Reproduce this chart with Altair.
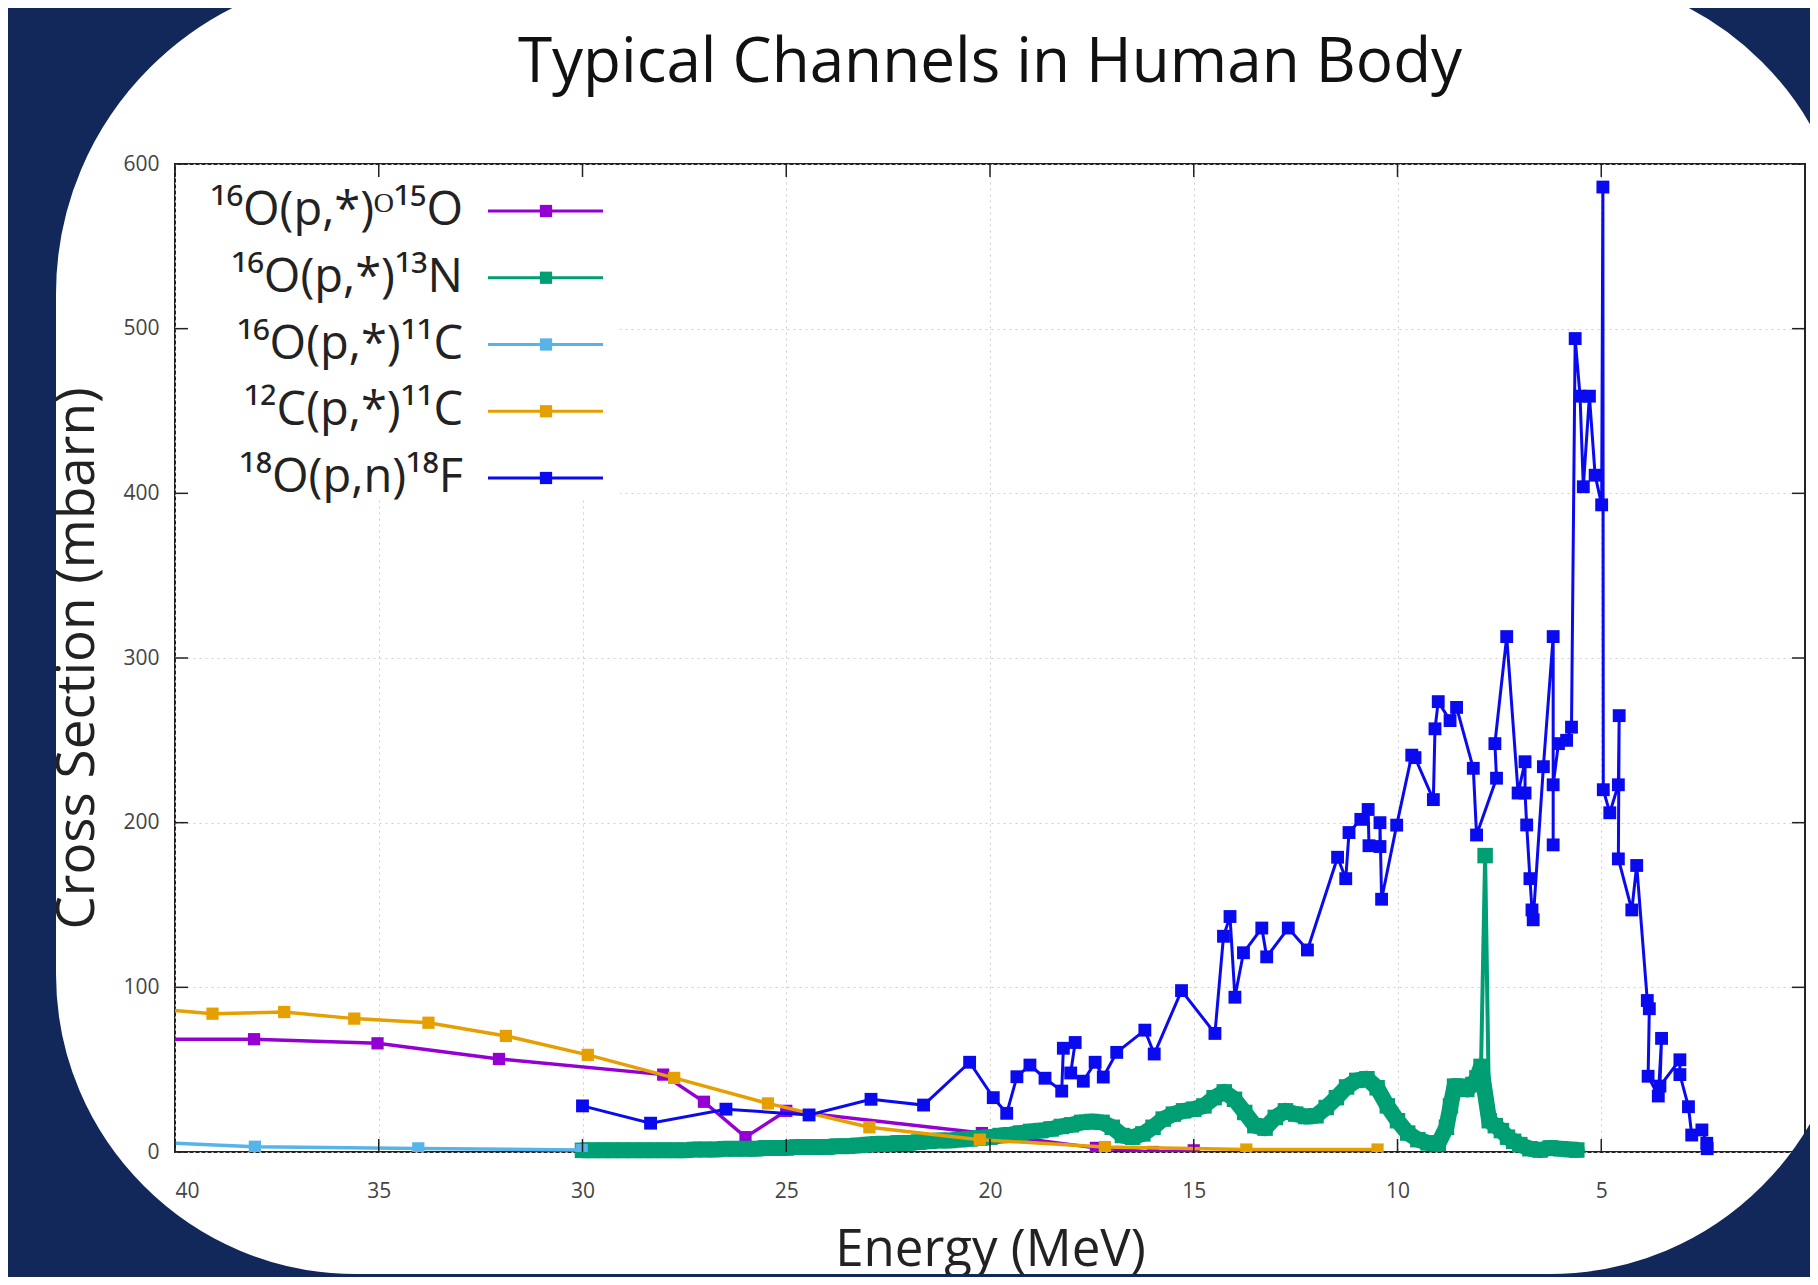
import altair as alt
import pandas as pd

# ---------------- data ----------------
SERIES = ["¹⁶O(p,*)ᴼ¹⁵O", "¹⁶O(p,*)¹³N", "¹⁶O(p,*)¹¹C", "¹²C(p,*)¹¹C", "¹⁸O(p,n)¹⁸F"]
COLORS = ["#9400d3", "#009e73", "#56b4e9", "#e69f00", "#0a0af0"]

PURPLE_E = [42.0, 38.06, 35.03, 32.05, 28.02, 27.02, 26.0, 25.0, 20.2, 17.4, 16.0, 15.0]
PURPLE_V = [68.5, 68.5, 66, 56.5, 47, 30.5, 9, 25, 11.5, 2.5, 0, 1]

GREEN_E = [30.0, 29.75, 29.5, 29.25, 29.0, 28.75, 28.5, 28.25, 28.0, 27.75,
           27.5, 27.25, 27.0, 26.75, 26.5, 26.25, 26.0, 25.75, 25.5, 25.25,
           25.0, 24.75, 24.5, 24.25, 24.0, 23.75, 23.5, 23.25, 23.0, 22.75,
           22.5, 22.25, 22.0, 21.75, 21.5, 21.25, 21.0, 20.75, 20.5, 20.25,
           20.0, 19.75, 19.5, 19.25, 19.0, 18.75, 18.5, 18.25, 18.0, 17.75,
           17.5, 17.25, 17.0, 16.75, 16.5, 16.25, 16.0, 15.75, 15.5, 15.25,
           15.0, 14.75, 14.5, 14.25, 14.0, 13.75, 13.5, 13.25, 13.0, 12.75,
           12.5, 12.25, 12.0, 11.75, 11.5, 11.25, 11.0, 10.75, 10.5, 10.25,
           10.0, 9.75, 9.5, 9.25, 9.0, 8.8, 8.7, 8.6, 8.5, 8.4,
           8.3, 8.15, 8.05, 7.95, 7.85, 7.75, 7.6, 7.45, 7.3, 7.15,
           7.0, 6.75, 6.5, 6.25, 6.0, 5.75, 5.6]
GREEN_V = [1, 1, 1, 1, 1, 1, 1, 1, 1, 1,
           1, 1.5, 1.5, 1.5, 2, 2, 2, 2, 2.5, 2.5,
           2.5, 3, 3, 3, 3, 3.5, 3.5, 4, 4.5, 5,
           5, 5.5, 5.5, 6, 6.5, 7, 7, 7.5, 8, 8.5,
           9, 10, 10.5, 11.5, 12.5, 13, 14, 15.5, 16.5, 18,
           18.5, 18, 15, 10, 9, 11, 15, 20, 23, 25,
           26, 28, 33, 36.5, 32, 24, 16, 14.5, 21, 25,
           23, 21.5, 22, 27, 33, 39.5, 43.5, 44.5, 39, 28,
           19, 11.5, 7.5, 5.5, 5, 15, 28, 40, 40, 39,
           38, 41, 45, 52, 180, 19, 16, 13, 9, 6.5,
           4.5, 2, 1.2, 2.5, 2, 1.5, 1.2]

CYAN_E = [42.0, 38.04, 34.03, 30.02]
CYAN_V = [7.5, 3.2, 2.2, 1.2]

ORANGE_E = [41.0, 39.08, 37.32, 35.6, 33.78, 31.88, 29.87, 27.75, 25.45, 22.96, 20.25, 17.18, 13.71, 10.49]
ORANGE_V = [88, 84, 85, 81, 78.5, 70.5, 59, 45, 29.5, 15, 7.5, 3, 1.5, 1.5]

BLUE_E = [30.0, 28.33, 26.48, 24.44, 22.92, 21.63, 20.5, 19.92, 19.59, 19.34,
          19.02, 18.65, 18.24, 18.2, 17.91, 18.02, 17.71, 17.42, 17.22, 16.89,
          16.2, 15.97, 15.3, 14.48, 14.27, 14.11, 13.99, 13.78, 13.33, 13.21,
          12.68, 12.21, 11.47, 11.27, 11.19, 10.9, 10.72, 10.7, 10.43, 10.43,
          10.39, 10.02, 9.65, 9.57, 9.12, 9.08, 9.0, 8.71, 8.55, 8.14,
          8.06, 7.57, 7.61, 7.32, 7.04, 6.87, 6.87, 6.83, 6.75, 6.7,
          6.67, 6.42, 6.18, 6.18, 6.18, 6.05, 5.85, 5.73, 5.64, 5.52,
          5.44, 5.29, 5.15, 4.99, 4.96, 4.95, 4.79, 4.58, 4.56, 4.58,
          4.25, 4.13, 3.87, 3.82, 3.85, 3.6, 3.52, 3.56, 3.07, 3.07,
          2.86, 2.78, 2.53, 2.41, 2.4]
BLUE_V = [28, 17.5, 26, 22.5, 32, 28.5, 54.5, 33, 23.5, 45.7,
          52.8, 44.8, 37, 63, 66.5, 48, 43, 54.5, 45.5, 60.5,
          74, 59.5, 98, 72, 131, 143, 94, 121, 136, 118.5,
          136, 122.7, 179, 166, 194, 202, 208, 186, 185.5, 200,
          153.5, 198.5, 241, 239.5, 214, 257, 273.5, 262, 270, 233,
          192.5, 227, 248, 313, 218, 237, 218, 198.6, 166, 147,
          141, 234, 313, 186.5, 223, 248, 250, 258, 494, 459,
          404, 459, 411, 393, 586, 220, 206, 223, 265, 178,
          147, 174, 92, 87, 46, 34, 69, 40, 56, 47,
          27.5, 10.3, 13.4, 5.3, 2]

X_TICKS = [40, 35, 30, 25, 20, 15, 10, 5]
Y_TICKS = [0, 100, 200, 300, 400, 500, 600]

TITLE = "Typical Channels in Human Body"
X_TITLE = "Energy (MeV)"
Y_TITLE = "Cross Section (mbarn)"

# ---------------- layout / style ----------------
PLOT_W, PLOT_H = 1630, 988
NAVY = "#12275a"
FONT = "Open Sans"
TICK_LEN = 13

X_SCALE = alt.Scale(domain=[40, 0], nice=False, zero=False)
Y_SCALE = alt.Scale(domain=[0, 600], nice=False, zero=False)

GRID = dict(grid=True, gridColor="#cfcfcf", gridDash=[2, 4], gridWidth=1)

x_axis = alt.Axis(values=X_TICKS, title=X_TITLE, domain=False, ticks=False,
                  labelFont=FONT, labelFontSize=21, labelColor="#444", labelPadding=28,
                  titleFont=FONT, titleFontSize=51, titleFontWeight="normal",
                  titleColor="#222", titlePadding=24, **GRID)
y_axis = alt.Axis(values=Y_TICKS, title=Y_TITLE, domain=False, ticks=False,
                  labelFont=FONT, labelFontSize=21, labelColor="#444", labelPadding=16,
                  titleFont=FONT, titleFontSize=53, titleFontWeight="normal",
                  titleColor="#222", titlePadding=18, **GRID)


def series_df(E, V):
    return pd.DataFrame({"E": E, "v": V, "idx": list(range(len(E)))})


def enc(with_y_axis=False):
    return dict(
        x=alt.X("E:Q", scale=X_SCALE, axis=x_axis),
        y=alt.Y("v:Q", scale=Y_SCALE, axis=y_axis if with_y_axis else None),
        order=alt.Order("idx:Q"),
    )


def series_layer(E, V, color, clip, size, width=3.5, with_y_axis=False):
    return alt.Chart(series_df(E, V)).mark_line(
        color=color, strokeWidth=width, clip=clip,
        point=alt.OverlayMarkDef(shape="square", filled=True, size=size,
                                 color=color, opacity=1, clip=clip),
    ).encode(**enc(with_y_axis))


purple = series_layer(PURPLE_E, PURPLE_V, COLORS[0], True, 150, with_y_axis=True)
# dense green points overlap into a thick band; the narrow spike stays a thin line
green_band = alt.Chart(series_df(GREEN_E, GREEN_V)).transform_filter(
    alt.datum.v < 100
).mark_line(color=COLORS[1], strokeWidth=16, strokeJoin="round", strokeCap="round").encode(**enc())
green = series_layer(GREEN_E, GREEN_V, COLORS[1], False, 240, width=4)
cyan = series_layer(CYAN_E, CYAN_V, COLORS[2], True, 150)
orange = series_layer(ORANGE_E, ORANGE_V, COLORS[3], True, 150)
blue = series_layer(BLUE_E, BLUE_V, COLORS[4], False, 165, width=3)

# ---------------- legend (gnuplot style: text left, sample right) ----------------
leg = pd.DataFrame({"label": SERIES})
leg_y = alt.Y("label:N", axis=None,
              scale=alt.Scale(type="point", domain=SERIES, range=[47, 314], padding=0))
leg_color = alt.Color("label:N", scale=alt.Scale(domain=SERIES, range=COLORS), legend=None)

one = pd.DataFrame({"k": [0]})
legend_bg = alt.Chart(one).mark_rect(color="white").encode(
    x=alt.value(2), x2=alt.value(445), y=alt.value(2), y2=alt.value(336))
legend_lines = alt.Chart(leg).mark_rule(strokeWidth=3).encode(
    x=alt.value(313), x2=alt.value(428), y=leg_y, color=leg_color)
legend_pts = alt.Chart(leg).mark_point(shape="square", filled=True, size=150, opacity=1).encode(
    x=alt.value(371), y=leg_y, color=leg_color)
legend_txt = alt.Chart(leg).mark_text(align="right", baseline="middle", font=FONT,
                                      fontSize=47, color="#222").encode(
    x=alt.value(288), y=leg_y, text="label:N")

# ---------------- inward ticks on all four sides ----------------
xt = pd.DataFrame({"E": X_TICKS})
yt = pd.DataFrame({"v": Y_TICKS})
tick_style = dict(color="#222", strokeWidth=1.5)
tick_xb = alt.Chart(xt).mark_rule(**tick_style).encode(
    x=alt.X("E:Q", scale=X_SCALE, axis=x_axis), y=alt.value(PLOT_H), y2=alt.value(PLOT_H - TICK_LEN))
tick_xt = alt.Chart(xt).mark_rule(**tick_style).encode(
    x=alt.X("E:Q", scale=X_SCALE, axis=x_axis), y=alt.value(0), y2=alt.value(TICK_LEN))
tick_yl = alt.Chart(yt).mark_rule(**tick_style).encode(
    y=alt.Y("v:Q", scale=Y_SCALE, axis=None), x=alt.value(0), x2=alt.value(TICK_LEN))
tick_yr = alt.Chart(yt).mark_rule(**tick_style).encode(
    y=alt.Y("v:Q", scale=Y_SCALE, axis=None), x=alt.value(PLOT_W), x2=alt.value(PLOT_W - TICK_LEN))

# ---------------- chart title (as text above the plot) ----------------
title = alt.Chart(one).mark_text(align="center", baseline="alphabetic", font=FONT,
                                 fontSize=62, color="#111").encode(
    x=alt.value(PLOT_W / 2), y=alt.value(-82), text=alt.value(TITLE))

# ---------------- slide frame: navy outside a rounded white card ----------------
card = alt.Chart(one).mark_rect(
    fill="transparent", stroke=NAVY, strokeWidth=420,
    cornerRadiusTopLeft=530, cornerRadiusBottomLeft=510,
    cornerRadiusTopRight=510, cornerRadiusBottomRight=510,
).encode(x=alt.value(-329), x2=alt.value(1885), y=alt.value(-400), y2=alt.value(1320))

chart = alt.layer(
    legend_bg, purple, green_band, green, cyan, orange, blue,
    legend_lines, legend_pts, legend_txt,
    tick_xb, tick_xt, tick_yl, tick_yr,
    title, card,
).resolve_scale(y="independent").properties(
    width=PLOT_W, height=PLOT_H,
    autosize=alt.AutoSizeParams(type="none"),
    padding={"left": 167, "top": 156, "right": 5, "bottom": 125},
    background="white",
).configure_view(stroke="#222", strokeWidth=2)

chart.save("out.html", embed_options={"renderer": "svg", "actions": False})
